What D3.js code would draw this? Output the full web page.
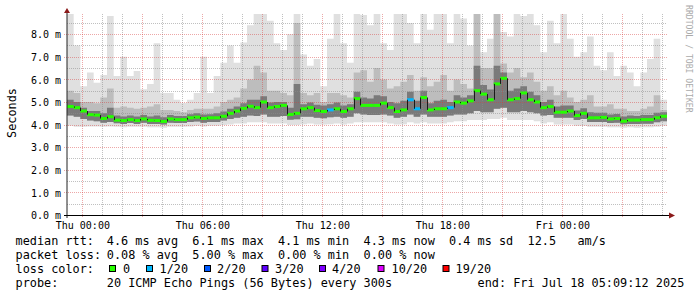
<!DOCTYPE html>
<html><head><meta charset="utf-8">
<script src="https://cdn.jsdelivr.net/npm/d3@7"></script>
<style>
html,body{margin:0;padding:0;background:#fff;}
svg{display:block;}
text{font-family:"DejaVu Sans Mono",monospace;}
</style></head><body>
<svg id="c" width="697" height="297"></svg>
<script>
// ---------- data (ms, one value per 20-minute bin) ----------
const binMinutes = 20;
const startTime = "2025-07-16T23:14:00Z";
const endTime = "2025-07-18T05:14:00Z";

const median = [4.80,4.75,4.60,4.44,4.42,4.27,4.35,4.20,4.18,4.22,
 4.18,4.25,4.19,4.18,4.14,4.25,4.22,4.22,4.30,4.33,
 4.27,4.30,4.30,4.37,4.50,4.60,4.72,4.81,4.75,5.00,
 4.75,4.80,4.85,4.45,4.50,4.70,4.75,4.62,4.58,4.65,
 4.70,4.58,4.70,5.15,4.85,4.85,4.85,4.95,4.75,4.58,
 4.65,5.10,4.70,5.20,4.65,4.70,4.70,4.75,5.00,4.95,
 5.05,5.50,5.35,5.10,5.80,6.05,5.10,5.15,5.40,5.10,
 5.00,4.75,4.80,4.55,4.55,4.60,4.40,4.50,4.30,4.30,
 4.32,4.25,4.27,4.15,4.20,4.20,4.22,4.22,4.30,4.37];

const lossCount = [0,0,0,0,0,0,0,0,0,0, 0,0,0,0,0,0,0,0,0,0, 0,0,0,0,0,0,0,0,0,0,
 0,0,0,0,0,0,0,0,0,1, 0,0,0,0,0,0,0,0,0,0, 0,1,1,0,0,0,0,1,0,0,
 0,0,0,0,0,0,0,0,0,0, 0,0,0,0,0,0,0,0,0,0, 0,0,0,0,0,0,0,0,0,0];

const smokeMax = [8.9,7.5,5.7,6.3,5.85,6.2,8.8,6.15,7.0,6.15,
 6.37,5.56,5.8,7.6,5.4,5.4,5.1,4.96,5.1,5.4,
 7.0,5.4,6.15,6.74,7.5,6.74,7.63,8.4,8.9,8.9,
 8.6,7.6,7.3,8.0,8.9,7.1,6.6,6.9,5.7,7.8,
 8.9,7.6,6.74,8.9,8.85,8.4,8.9,7.6,7.3,8.9,
 8.9,8.5,7.6,8.9,8.2,8.9,8.9,7.6,8.9,8.7,
 7.5,8.9,7.2,7.8,8.9,8.1,7.9,8.9,8.8,8.9,
 8.4,7.2,8.6,7.6,8.9,7.8,7.0,7.2,7.9,6.6,
 6.4,7.2,6.15,6.6,6.3,5.7,6.3,6.9,7.8,5.1];

const smokeHigh = [5.5,5.4,5.0,5.0,4.95,5.2,5.6,4.75,4.8,4.75,
 4.7,4.75,4.8,4.9,4.65,4.65,4.6,4.55,4.65,4.7,
 4.7,4.7,4.8,5.0,5.1,5.2,5.6,6.0,6.6,6.3,
 5.5,5.5,5.4,5.3,8.5,5.4,5.3,5.4,5.0,5.4,
 5.4,5.3,5.2,6.3,6.4,5.9,6.5,6.0,5.6,5.7,
 5.9,6.2,5.5,6.1,5.7,5.9,6.2,5.5,6.0,5.8,
 5.6,8.9,6.5,6.5,8.9,6.7,6.3,6.5,6.1,6.3,
 5.9,5.5,5.7,5.3,5.5,5.2,5.0,5.1,5.3,4.8,
 4.8,4.9,4.7,4.7,4.6,4.6,4.7,4.8,5.3,4.65];

const smokeCoreHigh = [5.1,5.0,4.75,4.6,4.6,4.5,4.75,4.4,4.36,4.4,
 4.36,4.42,4.36,4.4,4.32,4.42,4.38,4.38,4.46,4.5,
 4.45,4.46,4.5,4.58,4.7,4.8,4.95,5.1,5.1,5.25,
 4.98,5.0,5.0,4.75,5.8,4.9,4.98,4.88,4.85,4.9,
 4.98,4.85,4.9,5.45,5.2,5.15,5.3,5.25,5.0,4.95,
 5.05,5.45,5.05,5.5,4.95,5.05,5.1,5.0,5.3,5.2,
 5.3,6.6,5.75,5.55,6.6,6.3,5.5,5.6,5.7,5.45,
 5.3,5.0,5.1,4.8,4.85,4.85,4.62,4.72,4.55,4.52,
 4.52,4.45,4.47,4.36,4.4,4.38,4.42,4.42,4.52,4.55];

const smokeLow = [4.4,4.35,4.25,4.18,4.15,4.08,4.12,4.06,4.03,4.07,
 4.03,4.08,4.03,4.03,4.0,4.08,4.07,4.07,4.12,4.14,
 4.08,4.12,4.12,4.18,4.25,4.3,4.35,4.4,4.38,4.45,
 4.35,4.35,4.38,4.22,4.24,4.35,4.35,4.3,4.28,4.33,
 4.35,4.3,4.35,4.5,4.45,4.42,4.42,4.45,4.4,4.3,
 4.35,4.45,4.35,4.45,4.35,4.35,4.35,4.4,4.45,4.45,
 4.5,4.6,4.55,4.55,4.7,4.75,4.55,4.55,4.6,4.55,
 4.5,4.4,4.42,4.3,4.3,4.3,4.2,4.25,4.12,4.12,
 4.12,4.07,4.08,4.02,4.03,4.03,4.04,4.04,4.1,4.15];

const smokeMin = [3.95,3.9,3.9,3.92,3.92,3.9,3.92,3.9,3.88,3.9,
 3.9,3.9,3.88,3.88,3.86,3.9,3.9,3.9,3.92,3.95,
 3.92,3.95,3.95,3.98,4.0,4.05,4.05,4.1,4.1,4.1,
 4.05,4.05,4.05,3.98,3.98,4.02,4.05,4.0,4.0,4.02,
 4.05,4.0,4.05,4.1,4.1,4.1,4.1,4.1,4.05,4.0,
 4.02,4.1,4.05,4.1,4.05,4.05,4.05,4.1,4.15,4.15,
 4.2,4.2,4.2,4.25,4.25,4.3,4.2,4.2,4.2,4.2,
 4.15,4.05,4.1,4.0,4.0,4.0,3.95,3.95,3.9,3.9,
 3.9,3.88,3.88,3.86,3.88,3.86,3.88,3.88,3.9,3.95];

const yTickValues = [0,1,2,3,4,5,6,7,8];
const xTickTimes = ["2025-07-17T00:00:00Z","2025-07-17T06:00:00Z","2025-07-17T12:00:00Z","2025-07-17T18:00:00Z","2025-07-18T00:00:00Z"];

const lossThresholds = [0,1,2,3,4,10,19];
const lossLabels = ["0","1/20","2/20","3/20","4/20","10/20","19/20"];
const lossColors = ["#26ff00","#00b8ff","#0059ff","#5e00ff","#7e00ff","#dd00ff","#ff0000"];

const legendLines = [
  ["median rtt:", "4.6 ms avg  6.1 ms max  4.1 ms min  4.3 ms now  0.4 ms sd  12.5   am/s"],
  ["packet loss:", "0.08 % avg  5.00 % max  0.00 % min  0.00 % now"],
  ["loss color:", ""],
  ["probe:", "20 ICMP Echo Pings (56 Bytes) every 300s"]
];
const endText = "end: Fri Jul 18 05:09:12 2025";
const yAxisTitle = "Seconds";
const watermark = "RRDTOOL / TOBI OETIKER";

// ---------- drawing ----------
const svg = d3.select("#c");
const L = 67, R = 667, T = 14, B = 215;
const t0 = new Date(startTime).getTime();
const timeAt = i => new Date(t0 + i*binMinutes*60000);
const x = d3.scaleUtc().domain([new Date(startTime), new Date(endTime)]).range([L, R]);
const y = d3.scaleLinear().domain([0, (B-T)/22.6]).range([B, T]);

svg.append("rect").attr("width",697).attr("height",297).attr("fill","#fff");
svg.append("clipPath").attr("id","pc").append("rect").attr("x",L).attr("y",T).attr("width",R-L).attr("height",B-T);

const pts = median.map((m,i)=>({t:timeAt(i), i}));
pts.push({t:timeAt(median.length), i:median.length-1});

const plot = svg.append("g").attr("clip-path","url(#pc)");
const band = (lo, hi, col) => plot.append("path").datum(pts)
  .attr("fill", col)
  .attr("d", d3.area().curve(d3.curveStepAfter).x(d=>x(d.t)).y0(d=>y(lo[d.i])).y1(d=>y(hi[d.i])));
band(smokeMin, smokeMax, "#e0e0e0");
band(smokeLow, smokeHigh, "#bdbdbd");
band(smokeLow, smokeCoreHigh, "#7a7a7a");

// grid
const grid = svg.append("g");
const minorY = d3.range(0.5, 9, 1).filter(v => y(v) >= T);
const majorY = yTickValues.filter(v => v > 0);
const hours = d3.utcHour.range(new Date(startTime), new Date(endTime)).filter(d => x(d) > L);
const minorCol = "rgba(140,140,140,0.55)", majorCol = "rgba(215,60,60,0.45)";
grid.selectAll("line.hm").data(minorY).join("line")
  .attr("x1",L).attr("x2",R).attr("y1",d=>Math.round(y(d))+0.5).attr("y2",d=>Math.round(y(d))+0.5)
  .attr("stroke",minorCol).attr("stroke-dasharray","1,1");
grid.selectAll("line.vm").data(hours.filter(d=>d.getUTCHours()%3!==0)).join("line")
  .attr("y1",T).attr("y2",B).attr("x1",d=>Math.round(x(d))+0.5).attr("x2",d=>Math.round(x(d))+0.5)
  .attr("stroke",minorCol).attr("stroke-dasharray","1,1");
grid.selectAll("line.hM").data(majorY).join("line")
  .attr("x1",L-3).attr("x2",R).attr("y1",d=>Math.round(y(d))+0.5).attr("y2",d=>Math.round(y(d))+0.5)
  .attr("stroke",majorCol).attr("stroke-dasharray","1,1");
grid.selectAll("line.vM").data(hours.filter(d=>d.getUTCHours()%3===0)).join("line")
  .attr("y1",T).attr("y2",B+3).attr("x1",d=>Math.round(x(d))+0.5).attr("x2",d=>Math.round(x(d))+0.5)
  .attr("stroke",majorCol).attr("stroke-dasharray","1,1");

// median line
const colorFor = c => { let k = 0; lossThresholds.forEach((th,j)=>{ if (c >= th) k = j; }); return lossColors[k]; };
const med = svg.append("g").attr("clip-path","url(#pc)");
med.selectAll("rect").data(median).join("rect")
  .attr("x",(d,i)=>x(timeAt(i))).attr("width",(d,i)=>x(timeAt(i+1))-x(timeAt(i)))
  .attr("y",d=>y(d)-1.5).attr("height",3)
  .attr("fill",(d,i)=>colorFor(lossCount[i]));
med.selectAll("line").data(d3.range(1, median.length)).join("line")
  .attr("x1",i=>Math.round(x(timeAt(i)))+0.5).attr("x2",i=>Math.round(x(timeAt(i)))+0.5)
  .attr("y1",i=>y(median[i-1])).attr("y2",i=>y(median[i]))
  .attr("stroke","#1a1a1a").attr("stroke-width",1);

// axes
const xAxis = d3.axisBottom(x).tickValues(xTickTimes.map(s=>new Date(s)))
  .tickFormat(d3.utcFormat("%a %H:%M")).tickSize(0).tickPadding(6.4);
const gx = svg.append("g").attr("transform",`translate(0,${B})`).call(xAxis);
gx.select(".domain").remove();
gx.selectAll("text").attr("font-size","10px").attr("fill","#000").attr("font-family","DejaVu Sans Mono");

const yAxis = d3.axisLeft(y).tickValues(yTickValues).tickFormat(d=>d.toFixed(1)+" m").tickSize(0).tickPadding(6);
const gy = svg.append("g").attr("transform",`translate(${L},0)`).call(yAxis);
gy.select(".domain").remove();
gy.selectAll("text").attr("font-size","10px").attr("fill","#000").attr("dy","0.36em").attr("font-family","DejaVu Sans Mono");

svg.append("line").attr("x1",L).attr("x2",L).attr("y1",11).attr("y2",B+3).attr("stroke","#222");
svg.append("line").attr("x1",L-3).attr("x2",671).attr("y1",B+0.5).attr("y2",B+0.5).attr("stroke","#000");
svg.append("path").attr("d",`M${L},8L${L+3},13L${L-3},13Z`).attr("fill","#8b1a1a");
svg.append("path").attr("d",`M675,${B+0.5}L669,${B-2.5}L669,${B+3.5}Z`).attr("fill","#8b1a1a");

// titles
svg.append("text").attr("transform","translate(15.5,113) rotate(-90)").attr("text-anchor","middle")
  .attr("font-size","11.85px").attr("fill","#000").text(yAxisTitle);
svg.append("text").attr("transform","translate(685.5,5) rotate(90)").attr("font-size","8.15px")
  .attr("fill","#aaaaaa").text(watermark);

// legend
const baselines = [245.3, 259, 272.7, 286.5];
const leg = svg.append("g").attr("font-size","11.85px").attr("fill","#000");
legendLines.forEach((ln,k)=>{
  leg.append("text").attr("x",15.5).attr("y",baselines[k]).style("white-space","pre").text(ln[0]);
  if (ln[1]) leg.append("text").attr("x",106.8).attr("y",baselines[k]).style("white-space","pre").text(ln[1]);
});
leg.append("text").attr("x",477.5).attr("y",baselines[3]).style("white-space","pre").text(endText);
const sqX = [109,146,204,261.5,319,377.5,442.5];
const lbX = [123,159.5,217,275,332,391.5,455.5];
lossColors.forEach((c,j)=>{
  leg.append("rect").attr("x",sqX[j]+0.5).attr("y",265.5).attr("width",6).attr("height",6)
    .attr("fill",c).attr("stroke","#000").attr("stroke-width",1);
  leg.append("text").attr("x",lbX[j]).attr("y",baselines[2]).text(lossLabels[j]);
});
</script>
</body></html>
